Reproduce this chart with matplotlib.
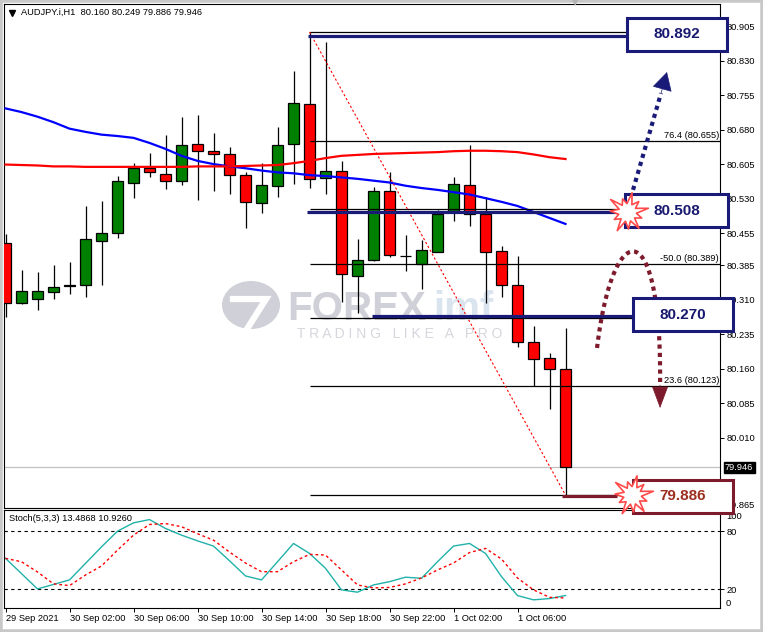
import matplotlib
matplotlib.use("Agg")
import matplotlib.pyplot as plt
import matplotlib.transforms as mtransforms
from matplotlib.patches import Rectangle, Ellipse
from matplotlib.path import Path
import numpy as np

plt.rcParams['font.family'] = ['Liberation Sans', 'DejaVu Sans']

# ==========================================================
# DATA  (AUDJPY.i, H1, 29 Sep 22:00 -> 1 Oct 09:00)
# ==========================================================

opens = [80.433, 80.303, 80.311, 80.327, 80.341, 80.342, 80.439, 80.455, 80.565,
         80.597, 80.583, 80.568, 80.648, 80.633, 80.626, 80.581, 80.520, 80.557,
         80.648, 80.735, 80.574, 80.589, 80.361, 80.397, 80.546, 80.406, 80.388,
         80.415, 80.503, 80.560, 80.496, 80.416, 80.342, 80.218, 80.184, 80.160]
highs = [80.453, 80.375, 80.371, 80.386, 80.392, 80.514, 80.525, 80.579, 80.608,
         80.629, 80.668, 80.707, 80.712, 80.673, 80.642, 80.588, 80.607, 80.686,
         80.807, 80.892, 80.870, 80.612, 80.442, 80.555, 80.587, 80.452, 80.440,
         80.505, 80.578, 80.646, 80.534, 80.427, 80.405, 80.253, 80.195, 80.249]
lows = [80.273, 80.301, 80.287, 80.313, 80.323, 80.316, 80.343, 80.445, 80.532,
        80.578, 80.551, 80.560, 80.526, 80.547, 80.539, 80.467, 80.498, 80.534,
        80.561, 80.552, 80.541, 80.306, 80.281, 80.395, 80.404, 80.373, 80.333,
        80.413, 80.482, 80.471, 80.304, 80.316, 80.207, 80.123, 80.074, 79.886]
closes = [80.303, 80.329, 80.329, 80.338, 80.342, 80.442, 80.455, 80.568, 80.597,
          80.587, 80.568, 80.646, 80.633, 80.626, 80.581, 80.522, 80.559, 80.646,
          80.737, 80.573, 80.589, 80.366, 80.397, 80.546, 80.407, 80.406, 80.418,
          80.497, 80.562, 80.496, 80.415, 80.342, 80.218, 80.182, 80.159, 79.946]

ma_blue = [80.726, 80.718, 80.708, 80.696, 80.682, 80.675, 80.669, 80.666, 80.662,
           80.651, 80.638, 80.623, 80.612, 80.605, 80.600, 80.596, 80.591, 80.587,
           80.585, 80.581, 80.579, 80.576, 80.573, 80.569, 80.565, 80.558, 80.553,
           80.549, 80.544, 80.539, 80.531, 80.523, 80.514, 80.501, 80.488, 80.475]
ma_red = [80.604, 80.603, 80.602, 80.600, 80.600, 80.599, 80.599, 80.599, 80.599,
          80.599, 80.599, 80.599, 80.600, 80.600, 80.600, 80.601, 80.602, 80.603,
          80.607, 80.612, 80.618, 80.623, 80.625, 80.627, 80.628, 80.629, 80.630,
          80.631, 80.633, 80.634, 80.634, 80.633, 80.631, 80.626, 80.620, 80.616]

stoch_main = [51.9, 36.1, 20.3, 24.9, 29.6, 46.7, 63.8, 80.0, 88.6, 92.0, 82.8, 75.9,
              70.0, 64.6, 49.4, 33.7, 29.6, 48.4, 67.3, 57.0, 41.6, 19.3, 16.9, 24.4,
              27.8, 32.4, 31.3, 48.4, 64.6, 67.3, 57.0, 33.0, 13.4, 9.0, 10.3, 13.4868]
stoch_signal = [51.9, 48.4, 37.8, 25.5, 23.7, 34.7, 44.0, 60.4, 75.9, 86.9, 87.9, 84.6,
                77.4, 70.7, 58.4, 47.1, 38.1, 38.1, 48.4, 56.0, 55.3, 39.9, 24.4, 21.3,
                21.8, 25.5, 31.6, 39.9, 47.1, 57.9, 62.2, 51.2, 31.6, 19.3, 11.6, 10.9260]

time_labels = ["29 Sep 2021", "30 Sep 02:00", "30 Sep 06:00", "30 Sep 10:00",
               "30 Sep 14:00", "30 Sep 18:00", "30 Sep 22:00", "1 Oct 02:00",
               "1 Oct 06:00"]
time_label_idx = [0, 4, 8, 12, 16, 20, 24, 28, 32]

price_ticks = [80.905, 80.830, 80.755, 80.680, 80.605, 80.530, 80.455, 80.385,
               80.310, 80.235, 80.160, 80.085, 80.010, 79.865]

fib_levels = [0.0, 23.6, 38.2, 50.0, 61.8, 76.4, 100.0]
fib_labelled = {23.6: "23.6", 50.0: "-50.0", 76.4: "76.4"}

# hand drawn level boxes: text, box centre price, x-range (bar index), colour
level_boxes = [
    ("80.892", 80.887, 38.84, 45.09, "navy"),
    ("80.508", 80.504, 38.72, 45.16, "navy"),
    ("80.270", 80.278, 39.22, 45.47, "navy"),
    ("79.886", 79.883, 39.22, 45.47, "maroon"),
]
# thick trend lines towards the boxes: start index, end index, price, colour
level_lines = [
    (18.9, 38.84, 80.884, "navy"),
    (18.84, 38.72, 80.501, "navy"),
    (22.9, 39.22, 80.275, "navy"),
    (34.8, 38.2, 79.884, "maroon"),
]

# ==========================================================
# FIGURE
# ==========================================================

W, H = 763, 632
fig = plt.figure(figsize=(W / 100, H / 100), dpi=100)
fig.patch.set_facecolor("white")


def px_rect(x0, y0, x1, y1):
    return [x0 / W, 1 - y1 / H, (x1 - x0) / W, (y1 - y0) / H]


ax = fig.add_axes(px_rect(4, 4, 720, 508))
ax2 = fig.add_axes(px_rect(4, 510, 720, 608))
ax.set_zorder(3)

NAVY = "#1a1a78"
NAVY_TXT = "#191970"
MAROON = "#7d1a2c"
MAROON_TXT = "#9c2f1f"
FS = 6.7

idx = np.arange(len(opens))
o = np.array(opens)
h = np.array(highs)
l = np.array(lows)
c = np.array(closes)

XMIN, XMAX = -0.094, 44.656
ax.set_xlim(XMIN, XMAX)
ax.set_ylim(79.8579, 80.9528)

# ======================================================
# WATERMARK
# ======================================================

def afx(px):
    return (px - 4) / 716


def afy(py):
    return (508 - py) / 504


ax.add_patch(Ellipse((afx(251), afy(305)), 58 / 716, 48 / 504,
                     transform=ax.transAxes, fc="#d0d0d8", ec="none", zorder=0.5))
ax.plot([afx(233), afx(266), afx(247)], [afy(299), afy(299), afy(329)],
        color="white", lw=4.5, transform=ax.transAxes, zorder=0.6,
        solid_joinstyle="miter")
ax.text(afx(287), afy(309), "FOREX", transform=ax.transAxes, fontsize=29,
        fontweight="bold", color="#d0d0d8", va="center", ha="left", zorder=0.6)
ax.text(afx(433), afy(309), "imf", transform=ax.transAxes, fontsize=29,
        fontweight="bold", color="#dae4ef", va="center", ha="left", zorder=0.6)
ax.text(afx(297), afy(334), "T R A D I N G   L I K E   A   P R O",
        transform=ax.transAxes, fontsize=10, color="#d6d6dc",
        va="center", ha="left", zorder=0.6)

# ======================================================
# CURRENT PRICE LINE
# ======================================================

ax.axhline(closes[-1], color="#c0c0c0", lw=0.9, zorder=1)

# ======================================================
# CANDLES
# ======================================================

body_col = np.where(c >= o, "#008000", "#ff0000")
ax.vlines(idx, l, h, color="black", lw=0.9, zorder=3)
ax.bar(idx, np.abs(c - o), bottom=np.minimum(o, c), width=0.69,
       color=body_col, edgecolor="black", linewidth=0.9, zorder=3.5)

# ======================================================
# MOVING AVERAGES
# ======================================================

ax.plot(idx, ma_blue, color="#0000ff", lw=1.6, zorder=4)
ax.plot(idx, ma_red, color="#ff0000", lw=1.6, zorder=4)

# ======================================================
# FIBONACCI RETRACEMENT
# ======================================================

fib_hi_i = int(np.argmax(h))
fib_lo_i = len(l) - 1
fib_hi = h[fib_hi_i]
fib_lo = l[fib_lo_i]
for lv in fib_levels:
    p = fib_lo + lv / 100 * (fib_hi - fib_lo)
    ax.hlines(p, fib_hi_i, XMAX, color="black", lw=0.9, zorder=5)
    if lv in fib_labelled:
        ax.text(0.9985, p + 0.002, f"{fib_labelled[lv]} ({p:.3f})",
                transform=mtransforms.blended_transform_factory(ax.transAxes, ax.transData),
                ha="right", va="bottom", fontsize=FS, zorder=5)
ax.plot([fib_hi_i, fib_lo_i], [fib_hi, fib_lo], color="red", lw=0.8,
        ls=(0, (2, 2)), zorder=5)

# ======================================================
# HAND DRAWN LEVELS
# ======================================================

cols = {"navy": NAVY, "maroon": MAROON}
for x0, x1, p, cname in level_lines:
    ax.plot([x0, x1], [p, p], color=cols[cname], lw=2.3, zorder=6,
            solid_capstyle="butt", clip_on=False)

half_h = 0.0358
for txt, pc, x0, x1, cname in level_boxes:
    ax.add_patch(Rectangle((x0, pc - half_h), x1 - x0, 2 * half_h, fc="white",
                           ec=cols[cname], lw=2.2, zorder=10, clip_on=False))
    ax.text((x0 + x1) / 2, pc, txt, ha="center", va="center", fontsize=11,
            fontweight="bold",
            color=NAVY_TXT if cname == "navy" else MAROON_TXT,
            zorder=10.5, clip_on=False)


def burst_path():
    outer = [1.0, 0.74, 0.95, 0.68, 1.0, 0.82, 0.7, 0.98, 0.78, 0.92, 0.72]
    n = len(outer)
    verts = []
    for k in range(n):
        a0 = 2 * np.pi * k / n + 0.2
        a1 = 2 * np.pi * (k + 0.5) / n + 0.2
        verts.append((outer[k] * np.cos(a0), outer[k] * np.sin(a0)))
        verts.append((0.42 * np.cos(a1), 0.42 * np.sin(a1)))
    verts.append(verts[0])
    codes = [Path.MOVETO] + [Path.LINETO] * (len(verts) - 2) + [Path.CLOSEPOLY]
    return Path(verts, codes)


burst = burst_path()
for bx, bp in [(38.84, 80.501), (39.16, 79.886)]:
    ax.plot([bx], [bp], marker=burst, ms=30, mfc="white", mec="#ff4a4a",
            mew=1.2, ls="none", zorder=11, clip_on=False)

# navy dotted arrow (up)
ax.plot([39.22, 40.97], [80.549, 80.759], color=NAVY, lw=3, ls=(0, (1, 1)),
        zorder=8, clip_on=False)
ax.annotate("", xy=(41.34, 80.805), xytext=(40.97, 80.759),
            arrowprops=dict(arrowstyle="-|>,head_length=1.0,head_width=0.55",
                            color=NAVY, lw=0.5, shrinkA=0, shrinkB=0,
                            mutation_scale=12),
            annotation_clip=False, zorder=8)

# maroon dotted arc (down)
P = np.array([[36.97, 80.2055], [37.97, 80.4944], [41.03, 80.5009], [40.91, 80.125]])
t = np.linspace(0, 1, 120)[:, None]
curve = ((1 - t) ** 3) * P[0] + 3 * ((1 - t) ** 2) * t * P[1] \
    + 3 * (1 - t) * t ** 2 * P[2] + t ** 3 * P[3]
ax.plot(curve[:, 0], curve[:, 1], color=MAROON, lw=3, ls=(0, (1, 1)),
        zorder=8, clip_on=False)
ax.annotate("", xy=(40.91, 80.075), xytext=(40.91, 80.125),
            arrowprops=dict(arrowstyle="-|>,head_length=1.2,head_width=0.45",
                            color=MAROON, lw=0.5, shrinkA=0, shrinkB=0,
                            mutation_scale=12),
            annotation_clip=False, zorder=8)

# ======================================================
# MAIN AXIS SETTINGS
# ======================================================

ax.yaxis.tick_right()
ax.set_yticks(price_ticks)
ax.set_yticklabels([f"{v:.3f}" for v in price_ticks])
ax.tick_params(axis="y", direction="out", length=3, width=0.7, pad=1.5,
               labelsize=FS)
ax.set_xticks([])
for s in ax.spines.values():
    s.set_linewidth(0.8)

ax.text(1.007, closes[-1], f"{closes[-1]:.3f}",
        transform=mtransforms.blended_transform_factory(ax.transAxes, ax.transData),
        ha="left", va="center", color="white", fontsize=FS,
        bbox=dict(boxstyle="square,pad=0.15", fc="black", ec="black"),
        zorder=9, clip_on=False)

ax.plot([0.0115], [0.9827], marker="v", ms=4.5, color="black",
        transform=ax.transAxes)
ax.text(0.0237, 0.9827,
        f"AUDJPY.i,H1  {opens[-1]:.3f} {highs[-1]:.3f} {lows[-1]:.3f} {closes[-1]:.3f}",
        transform=ax.transAxes, fontsize=FS, va="center", ha="left")

# ======================================================
# STOCHASTIC PANEL
# ======================================================

ax2.set_xlim(XMIN, XMAX)
ax2.set_ylim(0.55, 101.9)
ax2.axhline(80, color="black", lw=0.8, ls=(0, (3, 3)))
ax2.axhline(20, color="black", lw=0.8, ls=(0, (3, 3)))
ax2.plot(idx, stoch_main, color="#20b2aa", lw=1.0)
ax2.plot(idx, stoch_signal, color="#ff0000", lw=1.0, ls=(0, (2, 2)))
ax2.text(0.007, 0.91, f"Stoch(5,3,3) {stoch_main[-1]:.4f} {stoch_signal[-1]:.4f}",
         transform=ax2.transAxes, fontsize=FS, va="center", ha="left")

ax2.yaxis.tick_right()
ax2.set_yticks([20, 80])
ax2.set_yticklabels(["20", "80"])
ax2.tick_params(axis="y", direction="out", length=3, width=0.7, pad=1.5,
                labelsize=FS)
sb = mtransforms.blended_transform_factory(ax2.transAxes, ax2.transData)
ax2.text(1.0085, 100, "100", transform=sb, ha="left", va="top", fontsize=FS)
ax2.text(1.0085, 0.6, "0", transform=sb, ha="left", va="bottom", fontsize=FS)

ax2.set_xticks(time_label_idx)
ax2.set_xticklabels(time_labels)
for lbl in ax2.get_xticklabels():
    lbl.set_ha("left")
ax2.tick_params(axis="x", direction="out", length=3, width=0.7, pad=1.5,
                labelsize=FS)
for s in ax2.spines.values():
    s.set_linewidth(0.8)

# ======================================================
# WINDOW FRAME
# ======================================================

fig.patches.append(Rectangle((0, 0), 1, 1, transform=fig.transFigure, fill=False,
                             ec="#c8c8c8", lw=4, zorder=0))
fig.text(575 / W, 1 - 3 / H, "\u25bc", color="#b4b4b4", fontsize=6,
         ha="center", va="center", family="DejaVu Sans")

fig.savefig("out.png", dpi=100)
